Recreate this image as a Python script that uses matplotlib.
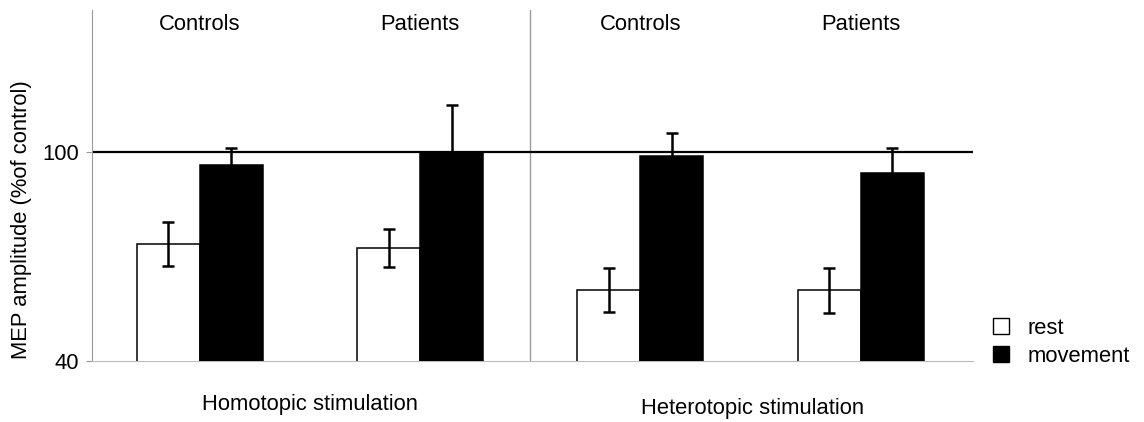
import numpy as np
import matplotlib.pyplot as plt
from matplotlib.lines import Line2D

plt.rcParams['font.family'] = ['Liberation Sans', 'DejaVu Sans']

# 数据
groups = ['Controls', 'Patients', 'Controls', 'Patients']
rest_mean = [73.6, 72.6, 60.4, 60.4]
rest_err = [6.4, 5.5, 6.3, 6.5]
move_mean = [96.3, 100.0, 99.1, 94.0]
move_err = [5.1, 13.8, 6.6, 7.4]
stim_labels = ['Homotopic stimulation', 'Heterotopic stimulation']

fs = 15.8

fig = plt.figure(figsize=(11.44, 4.22), dpi=100)
ax = fig.add_axes([0.0804, 0.1445, 0.7701, 0.8318])

x = np.arange(len(groups))
w = 0.286
err_kw = dict(ecolor='black', elinewidth=1.8, capsize=4.5, capthick=1.8)

ax.bar(x - w / 2, rest_mean, w, color='white', edgecolor='black', linewidth=1.1,
       yerr=rest_err, error_kw=err_kw, zorder=3)
ax.bar(x + w / 2, move_mean, w, color='black', edgecolor='black', linewidth=1.1,
       yerr=move_err, error_kw=err_kw, zorder=3)

# 100% 参考线和分隔线
ax.axhline(100, color='black', linewidth=1.6, zorder=2)
ax.axvline(1.5, color='#999999', linewidth=1.0, zorder=1)

ax.set_xlim(-0.49, 3.51)
ax.set_ylim(40, 141)
ax.set_xticks([])
ax.set_yticks([40, 100])
ax.tick_params(axis='y', length=4, color='#999999', labelsize=fs, pad=5)

for s in ['top', 'right']:
    ax.spines[s].set_visible(False)
ax.spines['left'].set_color('#999999')
ax.spines['bottom'].set_color('#bbbbbb')

for i, g in enumerate(groups):
    ax.text(i, 0.96, g, transform=ax.get_xaxis_transform(), ha='center', va='center',
            fontsize=fs)

ax.text(0.5, -0.125, stim_labels[0], transform=ax.get_xaxis_transform(),
        ha='center', va='center', fontsize=fs)
ax.text(2.51, -0.134, stim_labels[1], transform=ax.get_xaxis_transform(),
        ha='center', va='center', fontsize=fs)

fig.text(0.0192, 0.479, 'MEP amplitude (%of control)', rotation=90,
         ha='center', va='center', fontsize=fs)

handles = [Line2D([], [], marker='s', linestyle='', markersize=11,
                  markerfacecolor='white', markeredgecolor='black'),
           Line2D([], [], marker='s', linestyle='', markersize=11,
                  markerfacecolor='black', markeredgecolor='black')]
fig.legend(handles, ['rest', 'movement'], loc='center left',
           bbox_to_anchor=(0.848, 0.189), frameon=False, fontsize=fs,
           handletextpad=0.7, labelspacing=0.3, handlelength=1.0)

fig.savefig('out.png', dpi=100)
